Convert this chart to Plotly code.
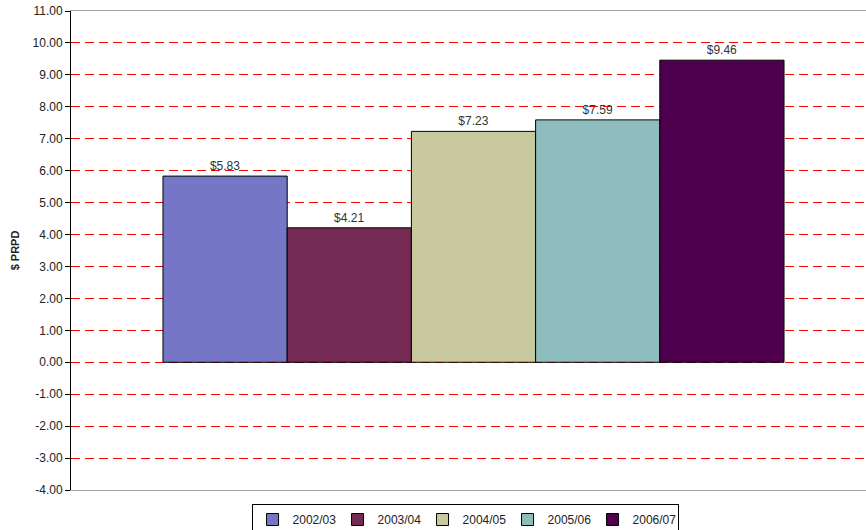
import plotly.graph_objects as go

series = ["2002/03", "2003/04", "2004/05", "2005/06", "2006/07"]
values = [5.83, 4.21, 7.23, 7.59, 9.46]
colors = ["#7676c6", "#742a52", "#c9c9a0", "#8fbdbd", "#4e004e"]
category = [""]
y_title = "$ PRPD"
tick_values = [-4, -3, -2, -1, 0, 1, 2, 3, 4, 5, 6, 7, 8, 9, 10, 11]
tick_labels = ["-4.00", "-3.00", "-2.00", "-1.00", "0.00", "1.00", "2.00", "3.00",
               "4.00", "5.00", "6.00", "7.00", "8.00", "9.00", "10.00", "11.00"]

fig = go.Figure()
for name, val, col in zip(series, values, colors):
    fig.add_trace(go.Bar(
        x=category, y=[val], name=name,
        marker=dict(color=col, line=dict(color="#000000", width=1)),
        text=[f"${val:.2f}"], textposition="outside",
        textfont=dict(size=12, color="#333333"),
        cliponaxis=False,
    ))

fig.update_layout(
    width=866, height=530,
    margin=dict(l=71, r=0, t=11, b=40, autoexpand=False),
    paper_bgcolor="white", plot_bgcolor="white",
    font=dict(family="Liberation Sans, Arial, sans-serif", size=12, color="#222222"),
    barmode="group", bargap=0.2, bargroupgap=0,
    showlegend=True,
    legend=dict(orientation="h", x=0.537, xref="container", xanchor="center",
                y=0.049, yref="container", yanchor="top",
                bordercolor="#000000", borderwidth=1, font=dict(size=12),
                entrywidth=40, traceorder="normal",
                tracegroupgap=0, itemwidth=30),
    xaxis=dict(range=[-0.5185, 0.5056], showticklabels=False, showgrid=False,
               showline=True, linecolor="#a0a0a0", linewidth=1, mirror=True,
               zeroline=False, ticks=""),
    yaxis=dict(range=[-4, 11], tickmode="array", tickvals=tick_values, ticktext=tick_labels,
               tickfont=dict(size=12),
               showgrid=True, gridcolor="#ff0000", griddash="9px,5px", gridwidth=1,
               zeroline=False, showline=True, linecolor="#000000", linewidth=1,
               ticks="outside", ticklen=5, tickcolor="#000000",
               title=dict(text="<b>" + y_title + "</b>", font=dict(size=11), standoff=10)),
)

fig.write_html("out.html")
